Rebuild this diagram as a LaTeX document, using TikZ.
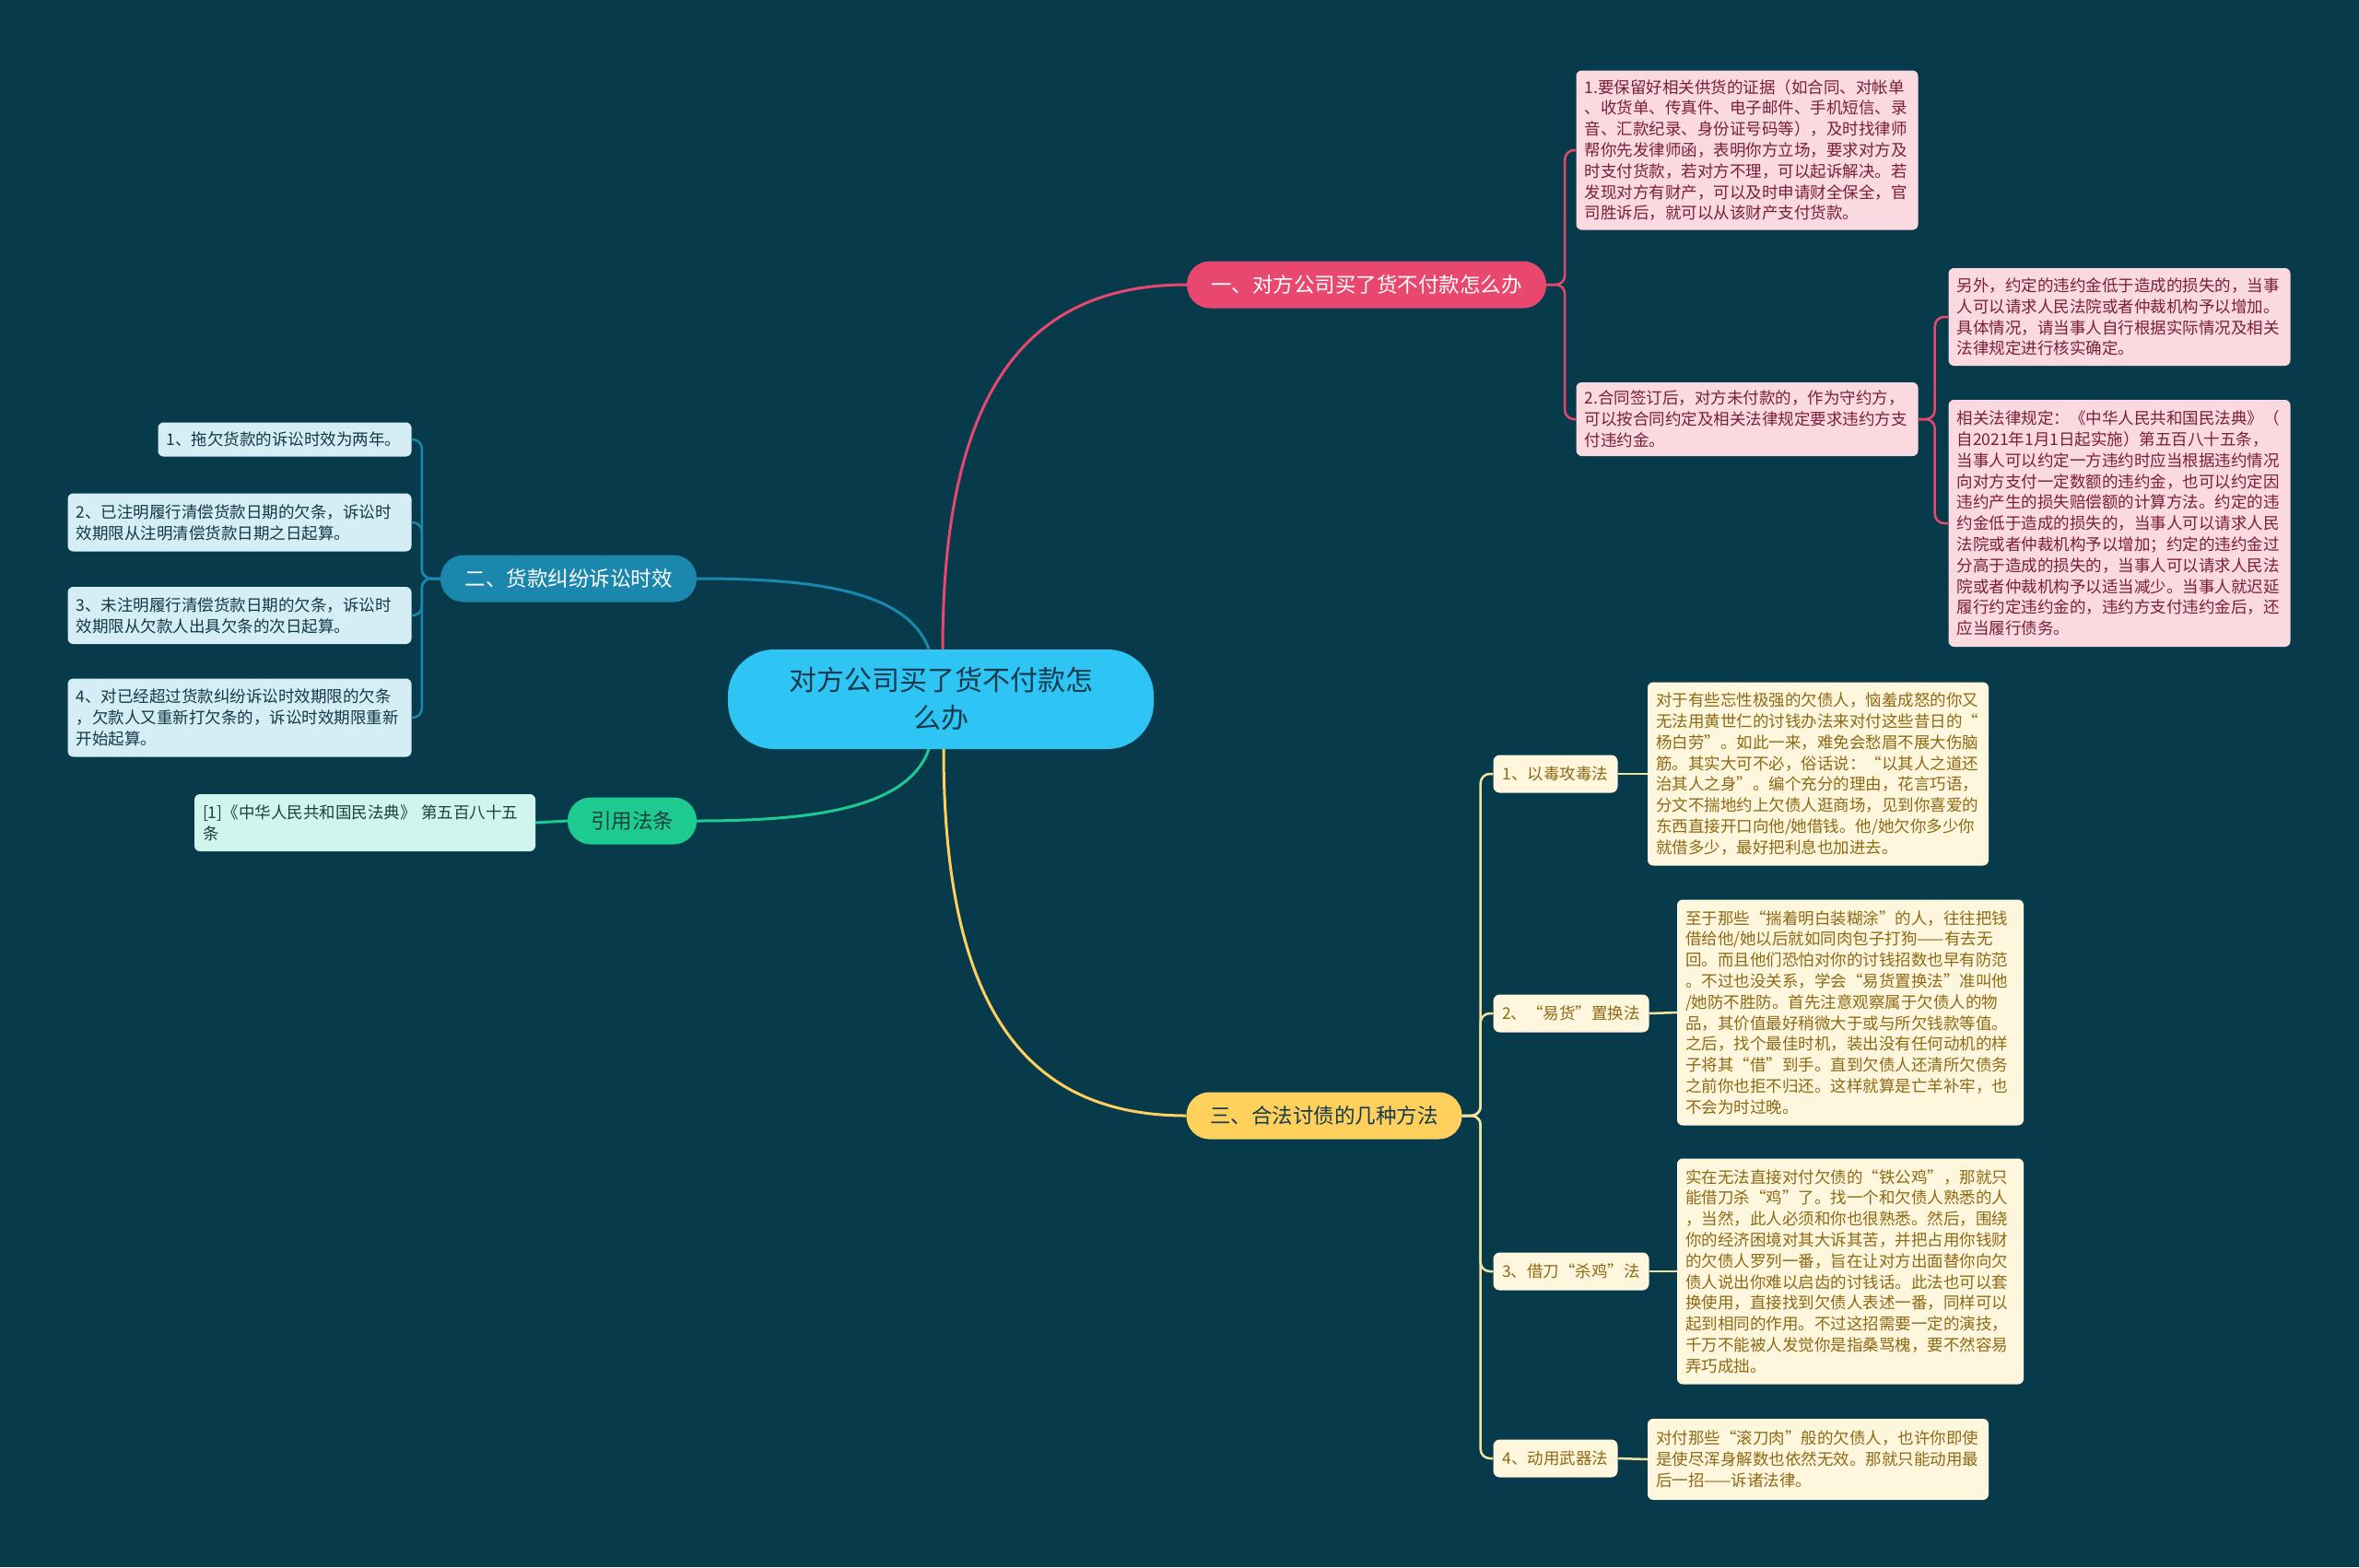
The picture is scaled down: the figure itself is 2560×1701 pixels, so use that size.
\documentclass[tikz,border=0pt]{standalone}
\usepackage{fontspec}
\setmainfont{Noto Sans CJK SC}
\usetikzlibrary{positioning}
\definecolor{bgteal}{HTML}{073B4C}
\definecolor{rootblue}{HTML}{2EC4F4}
\definecolor{rootink}{HTML}{163A4C}
\definecolor{paypink}{HTML}{E9486E}
\definecolor{payleaf}{HTML}{FBD9E0}
\definecolor{payink}{HTML}{7A1E3A}
\definecolor{limblue}{HTML}{1B87AD}
\definecolor{limleaf}{HTML}{D5EDF5}
\definecolor{limink}{HTML}{123847}
\definecolor{lawgreen}{HTML}{1DCB91}
\definecolor{lawleaf}{HTML}{D0F5EC}
\definecolor{lawink}{HTML}{1E3F3B}
\definecolor{wayyellow}{HTML}{FFD15C}
\definecolor{wayleaf}{HTML}{FFF6DE}
\definecolor{wayink}{HTML}{8D6914}
\definecolor{waylink}{HTML}{F2E3A0}

\begin{document}
\begin{tikzpicture}[x=1pt, y=-1pt,
    leaf/.style={rounded corners=6pt, inner xsep=9pt, inner ysep=4pt, align=left,
      font=\fontsize{17.5}{22.8}\selectfont},
    paynote/.style={leaf, fill=payleaf, text=payink},
    limnote/.style={leaf, fill=limleaf, text=limink},
    lawnote/.style={leaf, fill=lawleaf, text=lawink},
    waynote/.style={leaf, fill=wayleaf, text=wayink},
    branch/.style={rounded corners=25pt, minimum height=51pt, inner sep=0pt,
      font=\fontsize{22.5}{27}\selectfont},
    wayhead/.style={fill=wayleaf, text=wayink, rounded corners=7pt, minimum height=41pt,
      inner sep=0pt, font=\fontsize{17.5}{20}\selectfont},
    mainlink/.style={line width=3pt},
    sublink/.style={line width=2.5pt, rounded corners=10pt}]

    \useasboundingbox (0,0) rectangle (2560,1701);
    \fill[bgteal] (0,0) rectangle (2560,1701);

    % root
    \node[fill=rootblue, text=rootink, rounded corners=50pt, minimum width=462pt, minimum height=108pt,
      align=center, font=\fontsize{30}{41}\selectfont] (root) at (1021,759)
      {对方公司买了货不付款怎\\么办};

    % main branches
    \node[branch, fill=paypink, text=white, minimum width=390pt] (pay) at (1483,309) {一、对方公司买了货不付款怎么办};
    \node[branch, fill=limblue, text=white, minimum width=278pt] (limit) at (617,628) {二、货款纠纷诉讼时效};
    \node[branch, fill=lawgreen, text=lawink, minimum width=140pt] (law) at (686,891) {引用法条};
    \node[branch, fill=wayyellow, text=rootink, minimum width=299pt] (ways) at (1437,1211) {三、合法讨债的几种方法};

    \draw[paypink, mainlink] ([xshift=2pt]root.north) .. controls (1023,430) and (1110,309) .. (pay.west);
    \draw[limblue, mainlink] ([xshift=-13pt]root.north) .. controls (985,640) and (880,628) .. (limit.east);
    \draw[lawgreen, mainlink] ([xshift=-13pt]root.south) .. controls (985,878) and (880,891) .. (law.east);
    \draw[wayyellow, mainlink] ([xshift=3pt]root.south) .. controls (1024,1090) and (1110,1211) .. (ways.west);

    % branch 1 : leaves
    \node[paynote, text width=353pt, minimum height=173pt] (pay1) at (1896,163)
      {1.要保留好相关供货的证据（如合同、对帐单\\
       、收货单、传真件、电子邮件、手机短信、录\\
       音、汇款纪录、身份证号码等），及时找律师\\
       帮你先发律师函，表明你方立场，要求对方及\\
       时支付货款，若对方不理，可以起诉解决。若\\
       发现对方有财产，可以及时申请财全保全，官\\
       司胜诉后，就可以从该财产支付货款。};
    \node[paynote, text width=353pt, minimum height=80pt] (pay2) at (1896,455)
      {2.合同签订后，对方未付款的，作为守约方，\\
       可以按合同约定及相关法律规定要求违约方支\\
       付违约金。};
    \node[paynote, text width=353pt, minimum height=106pt] (pay2a) at (2300,344)
      {另外，约定的违约金低于造成的损失的，当事\\
       人可以请求人民法院或者仲裁机构予以增加。\\
       具体情况，请当事人自行根据实际情况及相关\\
       法律规定进行核实确定。};
    \node[paynote, text width=353pt, minimum height=268pt] (pay2b) at (2300,568)
      {相关法律规定：《中华人民共和国民法典》（\\
       自2021年1月1日起实施）第五百八十五条，\\
       当事人可以约定一方违约时应当根据违约情况\\
       向对方支付一定数额的违约金，也可以约定因\\
       违约产生的损失赔偿额的计算方法。约定的违\\
       约金低于造成的损失的，当事人可以请求人民\\
       法院或者仲裁机构予以增加；约定的违约金过\\
       分高于造成的损失的，当事人可以请求人民法\\
       院或者仲裁机构予以适当减少。当事人就迟延\\
       履行约定违约金的，违约方支付违约金后，还\\
       应当履行债务。};

    \foreach \n in {pay1, pay2}
      \draw[paypink, sublink] (pay.east) -- ++(20,0) |- (\n.west);
    \foreach \n in {pay2a, pay2b}
      \draw[paypink, sublink] (pay2.east) -- ++(18,0) |- (\n.west);

    % branch 2 : leaves
    \node[limnote, text width=257pt, minimum height=37pt] (lim1) at (309,477)
      {1、拖欠货款的诉讼时效为两年。};
    \node[limnote, text width=355pt, minimum height=63pt] (lim2) at (260,567)
      {2、已注明履行清偿货款日期的欠条，诉讼时\\
       效期限从注明清偿货款日期之日起算。};
    \node[limnote, text width=355pt, minimum height=62pt] (lim3) at (260,668)
      {3、未注明履行清偿货款日期的欠条，诉讼时\\
       效期限从欠款人出具欠条的次日起算。};
    \node[limnote, text width=355pt, minimum height=85pt] (lim4) at (260,779)
      {4、对已经超过货款纠纷诉讼时效期限的欠条\\
       ，欠款人又重新打欠条的，诉讼时效期限重新\\
       开始起算。};

    \foreach \n in {1,...,4}
      \draw[limblue, sublink] (limit.west) -- ++(-20,0) |- (lim\n.east);

    % cited article
    \node[lawnote, text width=352pt, minimum height=62pt] (lawref) at (396,893)
      {[1]《中华人民共和国民法典》 第五百八十五\\
       条};
    \draw[lawgreen, mainlink] (law.west) -- (lawref.east);

    % branch 3 : methods
    \node[wayhead, minimum width=135pt] (way1) at (1688,840) {1、以毒攻毒法};
    \node[wayhead, minimum width=169pt] (way2) at (1705,1100) {2、“易货”置换法};
    \node[wayhead, minimum width=169pt] (way3) at (1705,1380) {3、借刀“杀鸡”法};
    \node[wayhead, minimum width=135pt] (way4) at (1688,1583) {4、动用武器法};

    \node[waynote, text width=352pt, minimum height=199pt] (waytext1) at (1973,840)
      {对于有些忘性极强的欠债人，恼羞成怒的你又\\
       无法用黄世仁的讨钱办法来对付这些昔日的“\\
       杨白劳”。如此一来，难免会愁眉不展大伤脑\\
       筋。其实大可不必，俗话说：“以其人之道还\\
       治其人之身”。编个充分的理由，花言巧语，\\
       分文不揣地约上欠债人逛商场，见到你喜爱的\\
       东西直接开口向他/她借钱。他/她欠你多少你\\
       就借多少，最好把利息也加进去。};
    \node[waynote, text width=358pt, minimum height=245pt] (waytext2) at (2008,1099)
      {至于那些“揣着明白装糊涂”的人，往往把钱\\
       借给他/她以后就如同肉包子打狗——有去无\\
       回。而且他们恐怕对你的讨钱招数也早有防范\\
       。不过也没关系，学会“易货置换法”准叫他\\
       /她防不胜防。首先注意观察属于欠债人的物\\
       品，其价值最好稍微大于或与所欠钱款等值。\\
       之后，找个最佳时机，装出没有任何动机的样\\
       子将其“借”到手。直到欠债人还清所欠债务\\
       之前你也拒不归还。这样就算是亡羊补牢，也\\
       不会为时过晚。};
    \node[waynote, text width=358pt, minimum height=245pt] (waytext3) at (2008,1380)
      {实在无法直接对付欠债的“铁公鸡”，那就只\\
       能借刀杀“鸡”了。找一个和欠债人熟悉的人\\
       ，当然，此人必须和你也很熟悉。然后，围绕\\
       你的经济困境对其大诉其苦，并把占用你钱财\\
       的欠债人罗列一番，旨在让对方出面替你向欠\\
       债人说出你难以启齿的讨钱话。此法也可以套\\
       换使用，直接找到欠债人表述一番，同样可以\\
       起到相同的作用。不过这招需要一定的演技，\\
       千万不能被人发觉你是指桑骂槐，要不然容易\\
       弄巧成拙。};
    \node[waynote, text width=352pt, minimum height=88pt] (waytext4) at (1973,1584)
      {对付那些“滚刀肉”般的欠债人，也许你即使\\
       是使尽浑身解数也依然无效。那就只能动用最\\
       后一招——诉诸法律。};

    \foreach \n in {1,...,4} {
      \draw[waylink, sublink] (ways.east) -- ++(20,0) |- (way\n.west);
      \draw[waylink, sublink] (way\n.east) -- (waytext\n.west);
    }
  \end{tikzpicture}
\end{document}
